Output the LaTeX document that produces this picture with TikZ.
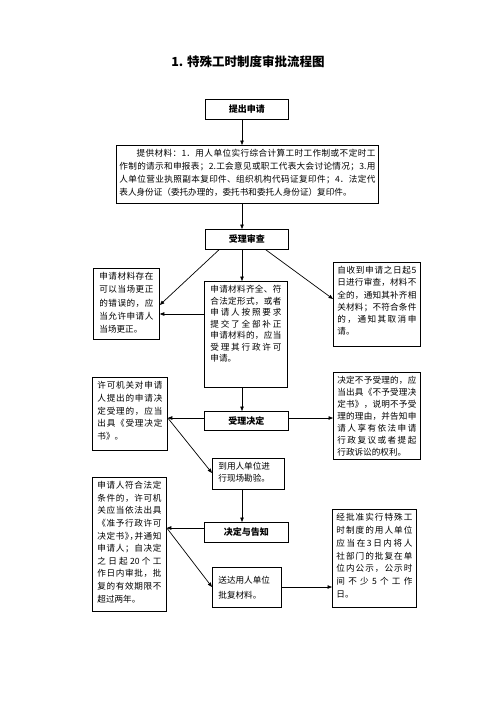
\documentclass[tikz,border=0pt]{standalone}
\usepackage{fontspec}
\setmainfont{Noto Sans CJK SC}
\usetikzlibrary{arrows.meta,calc}
\ExplSyntaxOn
\bool_new:N \l_jl_first_bool
\NewDocumentCommand{\jline}{m}{\hbox to \linewidth{\bool_set_true:N \l_jl_first_bool \tl_map_inline:nn {#1}{\bool_if:NF \l_jl_first_bool {\hskip 0pt plus 1fil} \bool_set_false:N \l_jl_first_bool ##1}}}
\ExplSyntaxOff
\newcommand{\lline}[1]{\hbox to\linewidth{#1\hfil}}
\newcommand{\bx}[4]{\parbox[c][#2pt][t]{#1pt}{\fontsize{8.6}{#3}\selectfont #4}}
\tikzset{
  box/.style={draw, line width=0.8pt, anchor=north west, inner xsep=6pt, inner ysep=4pt},
  head/.style={draw, line width=0.8pt, anchor=north west, inner sep=0pt, font=\fontsize{9}{10}\selectfont\bfseries},
  arr/.style={draw, line width=0.7pt, -{Triangle[length=4.5pt,width=3.5pt]}}
}
\begin{document}
\begin{tikzpicture}[x=1pt,y=-1pt]
\useasboundingbox (0,0) rectangle (496,702);
\node[font=\fontsize{12.5}{14}\selectfont\bfseries] (title) at (248,62) {1. 特殊工时制度审批流程图};

\node[head, minimum width=83pt, minimum height=20pt] (apply) at (205,99) {提出申请};
\node[box, inner xsep=3pt] (materials) at (116,145) {\bx{256}{50}{13}{%
\jline{{\hspace{17.2pt}提}供材料：{1．}用人单位实行综合计算工时工作制或不定时工}
\jline{作制的请示和申报表；{2.}工会意见或职工代表大会讨论情况；{3.}用}
\jline{人单位营业执照副本复印件、组织机构代码证复印件；{4．}法定代}
\lline{表人身份证（委托办理的，委托书和委托人身份证）复印件。}}};

\node[head, minimum width=83pt, minimum height=20pt] (review) at (205,229) {受理审查};

\node[box] (leftA) at (93,268) {\bx{54}{63}{13.3}{%
\jline{申请材料存在}
\jline{可以当场更正}
\jline{的错误的，应}
\jline{当允许申请人}
\lline{当场更正。}}};

\node[box] (mid) at (204,281) {\bx{71}{98}{11.5}{%
\jline{申请材料齐全、符}
\jline{合法定形式，或者}
\jline{申请人按照要求}
\jline{提交了全部补正}
\jline{申请材料的，应当}
\jline{受理其行政许可}
\lline{申请。}}};

\node[box, inner xsep=4pt] (rightA) at (333,262) {\bx{79}{76}{12.2}{%
\jline{自收到申请之日起5}
\jline{日进行审查，材料不}
\jline{全的，通知其补齐相}
\jline{关材料；不符合条件}
\jline{的，通知其取消申}
\lline{请。}}};

\node[head, minimum width=84pt, minimum height=19pt] (decide) at (204,411) {受理决定};

\node[box, inner xsep=5pt] (leftB) at (92,377) {\bx{65}{65}{12.7}{%
\jline{许可机关对申请}
\jline{人提出的申请决}
\jline{定受理的，应当}
\jline{出具《受理决定}
\lline{书》。}}};

\node[box, inner xsep=4pt] (rightB) at (333,372) {\bx{79}{79}{12}{%
\jline{决定不予受理的，应}
\jline{当出具《不予受理决}
\jline{定书》，说明不予受}
\jline{理的理由，并告知申}
\jline{请人享有依法申请}
\jline{行政复议或者提起}
\lline{行政诉讼的权利。}}};

\node[box] (survey) at (212,458) {\bx{60}{23}{11.7}{%
\lline{到用人单位进}
\lline{行现场勘验。}}};

\node[head, minimum width=84pt, minimum height=20pt] (notify) at (204,522) {决定与告知};

\node[box, inner xsep=5pt] (leftC) at (92,477) {\bx{64}{126}{12.6}{%
\jline{申请人符合法定}
\jline{条件的，许可机}
\jline{关应当依法出具}
\jline{《准予行政许可}
\jline{决定书{》\kern-4.3pt}{，\kern-4.3pt}并通知}
\jline{申请人；自决定}
\jline{之日起{20}个工}
\jline{作日内审批，批}
\jline{复的有效期限不}
\lline{超过两年。}}};

\node[box] (deliver) at (212,567) {\parbox[c][32pt][c]{57pt}{\fontsize{8.6}{14.7}\selectfont
\lline{送达用人单位}
\lline{批复材料。}}};

\node[box, inner xsep=4pt] (rightC) at (332,509) {\bx{76}{90}{12.8}{%
\jline{经批准实行特殊工}
\jline{时制度的用人单位}
\jline{应当在3日内将人}
\jline{社部门的批复在单}
\jline{位内公示，公示时}
\jline{间不少5个工作}
\lline{日。}}};

\coordinate (col) at (242,0);
\draw[arr] (apply.south -| col) -- (materials.north -| col);
\draw[arr] (materials.south -| col) -- (review.north -| col);
\draw[arr] (review.south -| col) -- (mid.north -| col);
\coordinate (rvL) at ($(review.south west)+(14,0)$);
\coordinate (laT) at ($(leftA.north east)+(0,37)$);
\draw[arr] (rvL) -- (laT);
\coordinate (midL) at ($(mid.north west)+(0,33)$);
\draw[arr] (midL) -- (midL -| leftA.east);
\coordinate (rvR) at ($(review.south east)+(-23,0)$);
\coordinate (raT) at ($(rightA.north west)+(0,37)$);
\draw[arr] (rvR) -- (raT);
\draw[arr] (mid.south -| col) -- (decide.north -| col);
\coordinate (dl) at ($(decide.north west)+(0,7)$);
\coordinate (dr) at ($(decide.north east)+(0,7)$);
\draw[arr] (dl) -- (dl -| leftB.east);
\draw[arr] (dr) -- (dr -| rightB.west);
\coordinate (lbE) at (dl -| leftB.east);
\coordinate (svW) at ($(survey.north west)+(0,15)$);
\draw[arr] (lbE) -- (svW);
\draw[arr] (survey.south -| col) -- (notify.north -| col);
\coordinate (nl) at ($(notify.north west)+(0,6)$);
\draw[arr] (nl) -- (nl -| leftC.east);
\coordinate (lcE) at (nl -| leftC.east);
\coordinate (dvW) at ($(deliver.north west)+(0,20)$);
\draw[arr] (lcE) -- (dvW);
\coordinate (dvE) at ($(deliver.north east)+(0,20)$);
\draw[arr] (dvE) -- (dvE -| rightC.west);
\end{tikzpicture}
\end{document}
